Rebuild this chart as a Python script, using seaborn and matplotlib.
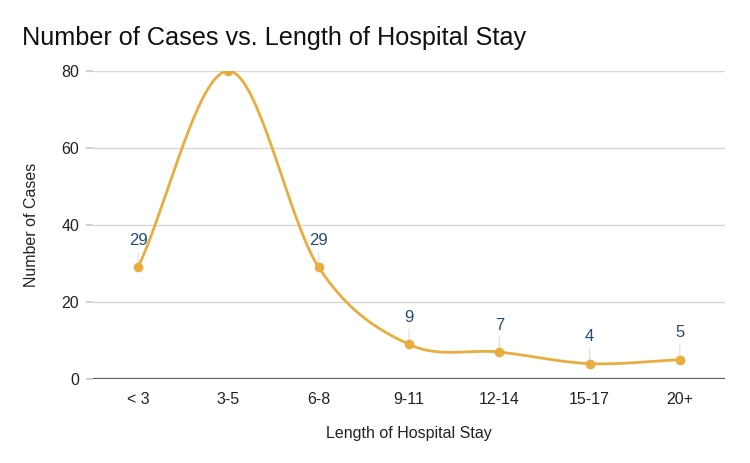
import numpy as np
import pandas as pd
import matplotlib
matplotlib.use("Agg")
import matplotlib.pyplot as plt
import seaborn as sns

categories = ["< 3", "3-5", "6-8", "9-11", "12-14", "15-17", "20+"]
cases = [29, 80, 29, 9, 7, 4, 5]
shown_labels = [True, False, True, True, True, True, True]
y_ticks = [0, 20, 40, 60, 80]

LINE = "#E8AD3E"
LABEL = "#254a78"

sns.set_theme(style="white")
plt.rcParams["font.family"] = ["Liberation Sans", "DejaVu Sans"]

fig = plt.figure(figsize=(7.5, 4.63), dpi=100)
ax = fig.add_axes([0.124, 0.1814, 0.8427, 0.6653])

x = np.arange(len(categories), dtype=float)
y = np.array(cases, dtype=float)

# Catmull-Rom smoothing of the series for rendering
n = len(x)
m = np.zeros(n)
for i in range(n):
    if i == 0:
        m[i] = (y[1] - y[0])
    elif i == n - 1:
        m[i] = (y[-1] - y[-2])
    else:
        m[i] = (y[i + 1] - y[i - 1]) / 2.0
xs, ys = [], []
t = np.linspace(0, 1, 40)
for i in range(n - 1):
    h00 = 2 * t**3 - 3 * t**2 + 1
    h10 = t**3 - 2 * t**2 + t
    h01 = -2 * t**3 + 3 * t**2
    h11 = t**3 - t**2
    xs.append(x[i] + t)
    ys.append(h00 * y[i] + h10 * m[i] + h01 * y[i + 1] + h11 * m[i + 1])
curve = pd.DataFrame({"x": np.concatenate(xs), "y": np.concatenate(ys)})
pts = pd.DataFrame({"x": x, "y": y})

for v in y_ticks[1:]:
    ax.axhline(v, color="#d6d6d6", lw=1.0, zorder=0)
ax.axhline(0, color="#5a5a5a", lw=1.6, zorder=1)

sns.lineplot(data=curve, x="x", y="y", ax=ax, color=LINE, lw=2.0,
             sort=False, estimator=None, zorder=3, clip_on=True)
sns.scatterplot(data=pts, x="x", y="y", ax=ax, color=LINE, s=42,
                edgecolor=LINE, zorder=4, clip_on=True)

for xi, yi, show in zip(x, y, shown_labels):
    if not show:
        continue
    ax.annotate(f"{int(yi)}", xy=(xi, yi), xytext=(0, 14),
                textcoords="offset points", ha="center", va="bottom",
                color=LABEL, fontsize=12,
                arrowprops=dict(arrowstyle="-", color="#dddddd", lw=0.8,
                                shrinkA=1, shrinkB=3))

ax.set_xlim(-0.5, len(categories) - 0.5)
ax.set_ylim(0, 80)
ax.set_xticks(x)
ax.set_xticklabels(categories, fontsize=11.5, color="#222222")
ax.set_yticks(y_ticks)
ax.set_yticklabels([str(v) for v in y_ticks], fontsize=11.5, color="#222222")
ax.tick_params(axis="y", length=5, color="#cccccc", pad=5, left=True)
ax.tick_params(axis="x", length=0, pad=9)
for s in ax.spines.values():
    s.set_visible(False)

ax.set_xlabel("Length of Hospital Stay", fontsize=11.5, color="#222222", labelpad=14)
ax.set_ylabel("Number of Cases", fontsize=11.5, color="#222222", labelpad=16)

fig.text(0.029, 0.918, "Number of Cases vs. Length of Hospital Stay",
         fontsize=18.2, color="#111111", ha="left", va="center")

fig.savefig("out.png", dpi=100)
